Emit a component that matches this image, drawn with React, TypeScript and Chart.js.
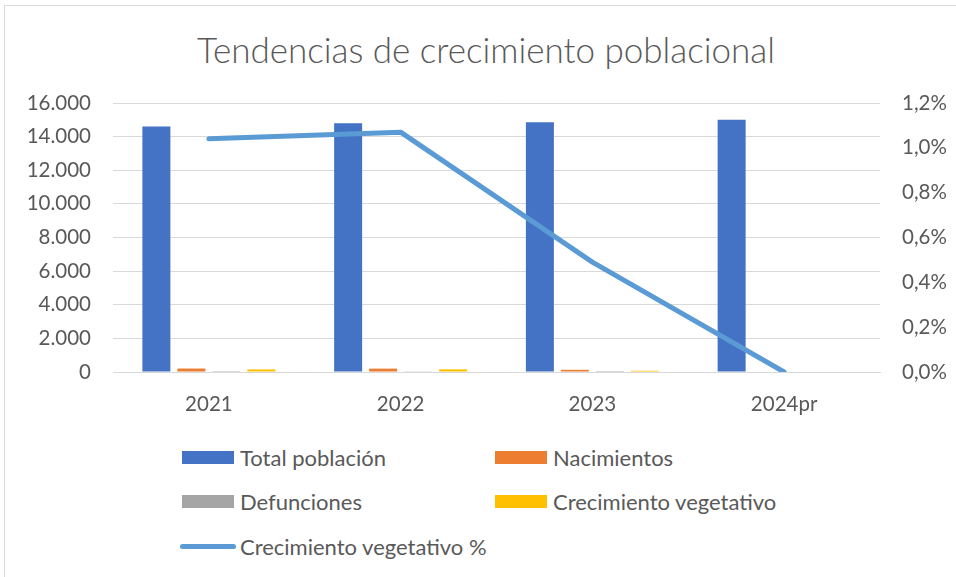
import React, { useEffect, useRef } from "react";
import { Chart, registerables } from "chart.js";

Chart.register(...registerables);

const years = ["2021", "2022", "2023", "2024pr"];
const totalPoblacion = [14600, 14800, 14850, 15000];
const nacimientos = [205, 200, 130, 0];
const defunciones = [52, 42, 57, 0];
const crecimientoVegetativo = [153, 158, 73, 0];
const crecimientoPct = [1.04, 1.07, 0.49, 0.0];

const FONT = "Lato, 'Open Sans', sans-serif";
const TEXT = "#595959";
const GRID = "#d9d9d9";

const legendItems = [
  { label: "Total población", color: "#4472C4", type: "box", x: 182, y: 457 },
  { label: "Nacimientos", color: "#ED7D31", type: "box", x: 495, y: 457 },
  { label: "Defunciones", color: "#A5A5A5", type: "box", x: 182, y: 501 },
  { label: "Crecimiento vegetativo", color: "#FFC000", type: "box", x: 495, y: 501 },
  { label: "Crecimiento vegetativo %", color: "#5B9BD5", type: "line", x: 182, y: 546 },
];

export default function App() {
  const ref = useRef<HTMLCanvasElement>(null);
  useEffect(() => {
    if (!ref.current) return;
    const fmtInt = (v: number) => String(v).replace(/\B(?=(\d{3})+(?!\d))/g, ".");
    const chart = new Chart(ref.current, {
      data: {
        labels: years,
        datasets: [
          {
            type: "line",
            label: "Crecimiento vegetativo %",
            data: crecimientoPct,
            yAxisID: "y1",
            borderColor: "#5B9BD5",
            borderWidth: 5,
            borderCapStyle: "round",
            borderJoinStyle: "round",
            pointRadius: 0,
            tension: 0,
            order: 0,
          },
          { type: "bar", label: "Total población", data: totalPoblacion, backgroundColor: "#4472C4", yAxisID: "y", order: 1 },
          { type: "bar", label: "Nacimientos", data: nacimientos, backgroundColor: "#ED7D31", yAxisID: "y", order: 1 },
          { type: "bar", label: "Defunciones", data: defunciones, backgroundColor: "#A5A5A5", yAxisID: "y", order: 1 },
          { type: "bar", label: "Crecimiento vegetativo", data: crecimientoVegetativo, backgroundColor: "#FFC000", yAxisID: "y", order: 1 },
        ],
      },
      options: {
        responsive: false,
        animation: false,
        devicePixelRatio: 1,
        layout: { padding: { top: 103, left: 0, right: 0, bottom: 0 } },
        datasets: { bar: { categoryPercentage: 0.73, barPercentage: 0.8 } },
        plugins: { legend: { display: false }, title: { display: false }, tooltip: { enabled: false } },
        scales: {
          x: {
            grid: { display: false, drawTicks: false },
            border: { display: true, color: GRID, width: 1 },
            ticks: { font: { family: FONT, size: 20.5 }, color: TEXT, padding: 20 },
            afterFit: (s: any) => { s.height = 58; },
          },
          y: {
            position: "left",
            min: 0,
            max: 16000,
            grid: { color: GRID, drawTicks: false },
            border: { display: false },
            ticks: { stepSize: 2000, font: { family: FONT, size: 20.5 }, color: TEXT, padding: 22, callback: (v: any) => fmtInt(Number(v)) },
            afterFit: (s: any) => { s.width = 113; },
          },
          y1: {
            position: "right",
            min: 0,
            max: 1.2,
            grid: { display: false, drawTicks: false },
            border: { display: false },
            ticks: { stepSize: 0.2, font: { family: FONT, size: 20.5 }, color: TEXT, padding: 22, callback: (v: any) => Number(v).toFixed(1).replace(".", ",") + "%" },
            afterFit: (s: any) => { s.width = 76; },
          },
        },
      },
    } as any);
    return () => chart.destroy();
  }, []);

  return (
    <div style={{ position: "absolute", left: 0, top: 0, width: 956, height: 577, overflow: "hidden", background: "#fff", fontFamily: FONT }}>
      <div style={{ position: "absolute", left: 4, top: 5, width: 1000, height: 700, border: `1px solid ${GRID}` }} />
      <div style={{ position: "absolute", left: 0, top: 26, width: 972, textAlign: "center", fontSize: 35, fontWeight: 300, color: TEXT, lineHeight: "46px", whiteSpace: "nowrap" }}>
        Tendencias de crecimiento poblacional
      </div>
      <canvas ref={ref} width={956} height={430} style={{ position: "absolute", left: 0, top: 0, width: 956, height: 430 }} />
      {legendItems.map((it) => (
        <div key={it.label} style={{ position: "absolute", left: it.x, top: it.y - 15, height: 30, display: "flex", alignItems: "center", whiteSpace: "nowrap" }}>
          {it.type === "box" ? (
            <div style={{ width: 52, height: 13, background: it.color }} />
          ) : (
            <div style={{ width: 56, height: 5, borderRadius: 3, background: it.color, marginLeft: -2, marginRight: -2 }} />
          )}
          <span style={{ marginLeft: 6, fontSize: 22, color: TEXT }}>{it.label}</span>
        </div>
      ))}
    </div>
  );
}
